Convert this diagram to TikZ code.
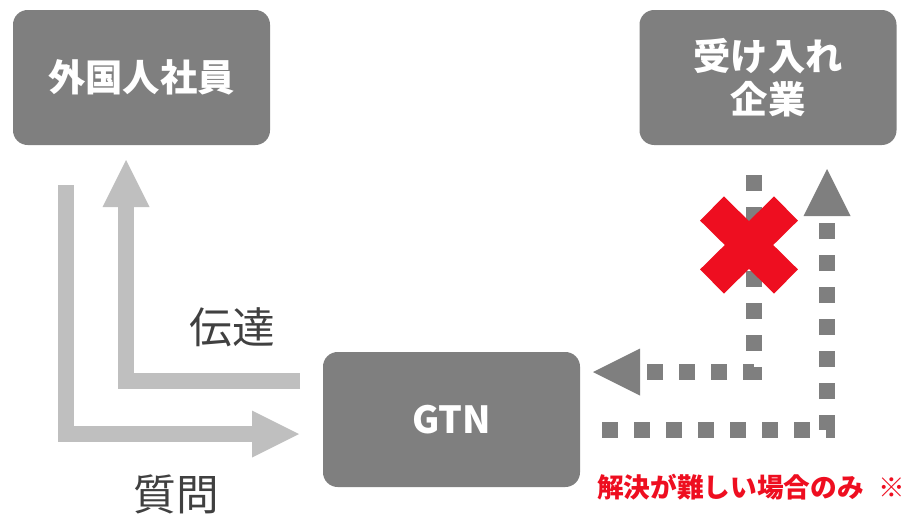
\documentclass[tikz,border=0pt]{standalone}
\usepackage{fontspec}
\setmainfont{Noto Sans CJK JP}
\usetikzlibrary{arrows.meta,calc}
\definecolor{boxgray}{HTML}{7F7F7F}
\definecolor{lightarrow}{HTML}{BFBFBF}
\definecolor{darktext}{HTML}{404040}
\definecolor{alertred}{HTML}{EE0E20}
\tikzset{
  grayblock/.style={fill=boxgray, rounded corners=11pt, minimum width=192.75pt, minimum height=101.25pt, text=white, font=\fontsize{28pt}{32pt}\selectfont\bfseries, align=center, inner sep=0pt},
  solidarrow/.style={draw=lightarrow, line width=12pt, line join=miter, -{Triangle[length=35.25pt, width=35.25pt, line width=0pt]}},
  dotarrow/.style={draw=boxgray, line width=12pt, line join=miter, dash pattern=on 12pt off 12pt, -{Triangle[length=35.25pt, width=35.25pt, line width=0pt]}},
  lbl/.style={text=darktext, font=\fontsize{32pt}{38pt}\selectfont, inner sep=0pt},
}
\begin{document}
\begin{tikzpicture}[x=0.75pt, y=-0.75pt]
\useasboundingbox (0,0) rectangle (911,514);
\node[grayblock] (emp) at (141.5,77.5) {外国人社員};
\node[grayblock] (corp) at (768,77.5) {受け入れ\\企業};
\node[grayblock, font=\fontsize{28pt}{34pt}\selectfont\bfseries] (gtn) at (451.5,419.5) {GTN};
% solid arrows
\coordinate (q0) at (66,185);
\coordinate (q1) at (299,434);
\draw[solidarrow] (q0) |- (q1);
\coordinate (t0) at (300,381);
\coordinate (t1) at (126,160);
\draw[solidarrow] (t0) -| (t1);
\node[lbl] (lt) at (232,327) {伝達};
\node[lbl] (lq) at (176,494) {質問};
% dotted arrows
\coordinate (d0) at (754,175);
\coordinate (d1) at (593,372);
\draw[dotarrow] (d0) |- (d1);
\coordinate (e0) at (602,430);
\coordinate (e1) at (827,169);
\draw[dotarrow] (e0) -| (e1);
% red cross
\coordinate (xc) at (749,245);
\draw[alertred, line width=25.5pt] ($(xc)+(-37,-36.5)$) -- ($(xc)+(37,36.5)$);
\draw[alertred, line width=25.5pt] ($(xc)+(-37,36.5)$) -- ($(xc)+(37,-36.5)$);
\node[text=alertred, font=\fontsize{20pt}{24pt}\selectfont\bfseries, inner sep=0pt, anchor=west] (note) at (597,487) {解決が難しい場合のみ\hspace{11pt}※};
\end{tikzpicture}
\end{document}
